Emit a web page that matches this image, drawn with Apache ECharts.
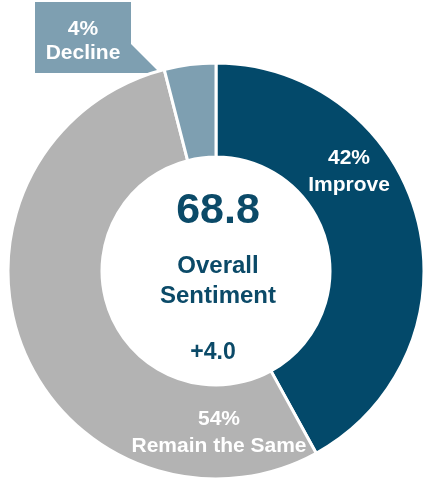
<!DOCTYPE html>
<html>
<head>
<meta charset="utf-8">
<script src="https://cdn.jsdelivr.net/npm/echarts@6/dist/echarts.min.js"></script>
<style>
  html, body { margin: 0; padding: 0; background: #fff; }
  #chart { width: 423px; height: 483px; }
</style>
</head>
<body>
<div id="chart"></div>
<script>
// slice data, clockwise from 12 o'clock
const categories = ['Improve', 'Remain the Same', 'Decline'];
const shares = [42, 54, 4];
const sliceColors = ['#03496A', '#B3B3B3', '#7E9FB1'];

// centre readout
const overallScore = '68.8';
const overallLabel = ['Overall', 'Sentiment'];
const overallChange = '+4.0';

const navy = '#0B4A68';
const font = '"Liberation Sans", Arial, sans-serif';

// where each slice label sits (px)
const labelSpots = [
  { x: 349, y: 171.5 },
  { x: 219, y: 433 },
  { x: 83, y: 41.5 }
];

const chart = echarts.init(document.getElementById('chart'));

const seriesData = categories.map((name, i) => ({
  name: name,
  value: shares[i],
  itemStyle: { color: sliceColors[i] },
  label: i === 2 ? { lineHeight: 24 } : undefined
}));

chart.setOption({
  animation: false,
  series: [
    {
      type: 'pie',
      center: [216, 271],
      radius: [114, 208],
      startAngle: 90,
      clockwise: true,
      silent: true,
      z: 3,
      itemStyle: { borderColor: '#fff', borderWidth: 3 },
      label: {
        show: true,
        position: 'inside',
        formatter: p => p.value + '%\n' + p.name,
        color: '#fff',
        fontFamily: font,
        fontWeight: 'bold',
        fontSize: 21,
        lineHeight: 27,
        align: 'center'
      },
      labelLine: { show: false },
      labelLayout: p => ({
        x: labelSpots[p.dataIndex].x,
        y: labelSpots[p.dataIndex].y,
        align: 'center',
        verticalAlign: 'middle'
      }),
      data: seriesData
    }
  ],
  graphic: [
    // Decline callout box and its pointer
    {
      type: 'rect',
      shape: { x: 35, y: 2, width: 96, height: 71 },
      style: { fill: sliceColors[2] },
      z: 1
    },
    {
      type: 'polygon',
      shape: { points: [[130, 43], [160, 73], [130, 73]] },
      style: { fill: sliceColors[2] },
      z: 1
    },
    {
      type: 'text',
      style: {
        text: overallScore, x: 218, y: 211,
        font: 'bold 43px ' + font, fill: navy,
        align: 'center', verticalAlign: 'middle'
      }
    },
    {
      type: 'text',
      style: {
        text: overallLabel.join('\n'), x: 218, y: 281,
        font: 'bold 24px ' + font, fill: navy, lineHeight: 30,
        align: 'center', verticalAlign: 'middle'
      }
    },
    {
      type: 'text',
      style: {
        text: overallChange, x: 213, y: 353,
        font: 'bold 23px ' + font, fill: navy,
        align: 'center', verticalAlign: 'middle'
      }
    }
  ]
});
</script>
</body>
</html>
